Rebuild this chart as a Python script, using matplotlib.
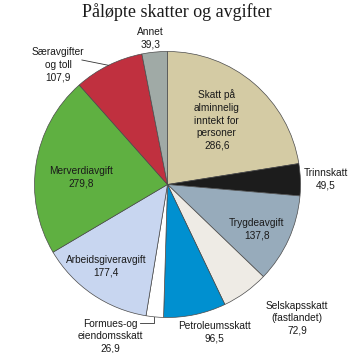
import matplotlib.pyplot as plt
import numpy as np

# Data (mrd. kroner)
labels = ["Skatt på\nalminnelig\ninntekt for\npersoner", "Trinnskatt", "Trygdeavgift",
          "Selskapsskatt\n(fastlandet)", "Petroleumsskatt", "Formues-og\neiendomsskatt",
          "Arbeidsgiveravgift", "Merverdiavgift", "Særavgifter\nog toll", "Annet"]
values = [286.6, 49.5, 137.8, 72.9, 96.5, 26.9, 177.4, 279.8, 107.9, 39.3]
value_text = ["286,6", "49,5", "137,8", "72,9", "96,5", "26,9", "177,4", "279,8", "107,9", "39,3"]

colors = ["#d4cba4", "#1c1c1c", "#97abbb", "#eeebe5", "#0090d0",
          "#ffffff", "#c8d6f0", "#5fb041", "#c0303f", "#a0aaa6"]

# label placement relative to wedge middle: radius (pie radius = 1) and angle shift (deg)
label_r = [0.61, 1.19, 0.75, 1.40, 1.17, 1.22, 0.77, 0.65, 1.22, 1.11]
label_dang = [3, 0, -2, 8.3, 5.8, -15.3, -2.4, 3.9, 16, 1.2]

fig = plt.figure(figsize=(3.53, 3.53), dpi=100)
ax = fig.add_axes([0.0977, 0.1006, 0.7535, 0.7535])

wedges, _ = ax.pie(values, colors=colors, startangle=90, counterclock=False,
                   radius=1, wedgeprops=dict(edgecolor="#4a4a4a", linewidth=0.5))
ax.set_xlim(-1, 1)
ax.set_ylim(-1, 1)
ax.set_aspect("auto")
ax.axis("off")

for i, w in enumerate(wedges):
    mid = np.deg2rad((w.theta1 + w.theta2) / 2 + label_dang[i])
    x, y = label_r[i] * np.cos(mid), label_r[i] * np.sin(mid)
    ax.text(x, y, f"{labels[i]}\n{value_text[i]}", ha="center", va="center",
            fontsize=7.3, family="Liberation Sans", color="#1a1a1a",
            linespacing=1.32, clip_on=False)

# leader lines for the small outside labels
w = wedges[5]
a = np.deg2rad((w.theta1 + w.theta2) / 2 - 0.3)
ex, ey = np.cos(a), np.sin(a)
ax.plot([ex, ex, ex - 0.105], [ey, ey - 0.045, ey - 0.045], color="#333333", lw=0.6, clip_on=False)

w = wedges[8]
a = np.deg2rad((w.theta1 + w.theta2) / 2)
ex, ey = np.cos(a), np.sin(a)
ax.plot([ex, ex - 0.2], [ey, ey + 0.04], color="#333333", lw=0.6, clip_on=False)

fig.text(0.501, 0.966, "Påløpte skatter og avgifter", ha="center", va="center",
         fontsize=13, family="Liberation Serif", color="#1a1a1a")

fig.savefig("out.png", dpi=100)
